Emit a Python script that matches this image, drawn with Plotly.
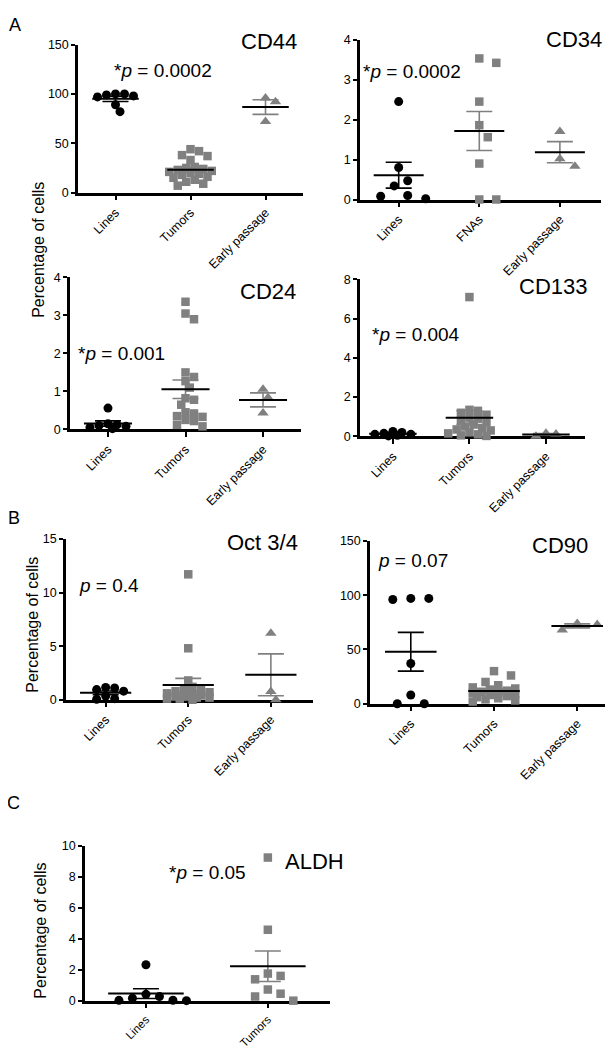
import numpy as np
import plotly.graph_objects as go

# ---------------- data ----------------
cats3 = ["Lines", "Tumors", "Early passage"]
cats_cd34 = ["Lines", "FNAs", "Early passage"]
cats2 = ["Lines", "Tumors"]

cd44_lines = [100, 98, 97, 99, 100, 82, 89]
cd44_tumors = [44, 42, 38, 37, 33, 26, 25, 24, 23, 22, 21, 20, 19, 18, 16, 15, 13, 11, 9, 7]
cd44_early = [96, 92, 72]

cd34_lines = [2.45, 0.8, 0.47, 0.34, 0.1, 0.02, 0.08]
cd34_fnas = [3.42, 3.53, 2.45, 1.86, 1.56, 0.9, 0.0, 0.0]
cd34_early = [1.70, 1.02, 0.83]

cd24_lines = [0.56, 0.15, 0.12, 0.1, 0.08, 0.05, 0.02]
cd24_tumors = [3.36, 3.05, 2.9, 1.5, 1.38, 1.27, 1.1, 0.82, 0.78, 0.65, 0.45, 0.42,
               0.35, 0.33, 0.25, 0.22, 0.12, 0.08]
cd24_early = [1.06, 0.84, 0.43]

cd133_lines = [0.2, 0.15, 0.1, 0.05, 0.02, 0.1, 0.25]
cd133_tumors = [7.1, 1.35, 1.3, 1.2, 1.1, 0.95, 0.9, 0.8, 0.7, 0.6, 0.5, 0.4, 0.35,
                0.3, 0.2, 0.15, 0.1, 0.05, 0.02]
cd133_early = [0.15, 0.0, 0.12]

oct_lines = [1.1, 1.15, 0.95, 0.8, 0.35, 0.1, 0.05]
oct_tumors = [11.7, 4.8, 1.8, 1.2, 1.0, 0.9, 0.8, 0.7, 0.6, 0.5, 0.5, 0.4, 0.3, 0.3,
              0.2, 0.2, 0.1, 0.1, 0.0]
oct_early = [6.2, 0.77, 0.0]

cd90_lines = [97, 96, 97, 37, 8, 0, 0]
cd90_tumors = [30, 26, 20, 17, 15, 14, 13, 12, 11, 10, 10, 9, 8, 7, 6, 5, 4, 3, 2]
cd90_early = [74, 68, 73]

aldh_lines = [2.32, 0.41, 0.27, 0.0, 0.02, 0.03, 0.16]
aldh_tumors = [9.24, 4.58, 1.6, 1.75, 1.38, 0.72, 0.45, 0.27, 0.0]

titles = ["CD44", "CD34", "CD24", "CD133", "Oct 3/4", "CD90", "ALDH"]
ptexts = ["*<i>p</i> = 0.0002", "*<i>p</i> = 0.0002", "*<i>p</i> = 0.001",
          "*<i>p</i> = 0.004", "<i>p</i> = 0.4", "<i>p</i> = 0.07", "*<i>p</i> = 0.05"]

# ---------------- layout geometry (pixels) ----------------
W, H = 613, 1050
BLACK = "#000000"
GRAY = "#808080"
FONT = "Liberation Sans, Arial, Helvetica, sans-serif"

panels = [
    dict(cats=cats3, groups=[cd44_lines, cd44_tumors, cd44_early], x0=70, x1=295, yt=30, yb=180,
         ymax=150, dtick=50, xr=(-0.5, 2.5), title=(261, 27), ptxt=(155, 56), cf=12.5,
         gap=0.9, cap=2.8),
    dict(cats=cats_cd34, groups=[cd34_lines, cd34_fnas, cd34_early], x0=352, x1=593, yt=25, yb=187,
         ymax=4, dtick=1, xr=(-0.48, 2.51), title=(566, 25), ptxt=(404, 57), cf=12.5,
         gap=1.6, cap=3.0),
    dict(cats=cats3, groups=[cd24_lines, cd24_tumors, cd24_early], x0=62, x1=293, yt=266, yb=420,
         ymax=4, dtick=1, xr=(-0.49, 2.49), title=(260, 280), ptxt=(113, 343), cf=12.5,
         gap=0.9, cap=2.8),
    dict(cats=cats3, groups=[cd133_lines, cd133_tumors, cd133_early], x0=352, x1=577, yt=268, yb=427,
         ymax=8, dtick=2, xr=(-0.43, 2.51), title=(545, 275), ptxt=(408, 324), cf=12.5,
         gap=0.85, cap=2.8),
    dict(cats=cats3, groups=[oct_lines, oct_tumors, oct_early], x0=58, x1=305, yt=531, yb=694,
         ymax=15, dtick=5, xr=(-0.48, 2.51), title=(254, 535), ptxt=(101, 578), cf=12.5,
         gap=0.85, cap=2.8),
    dict(cats=cats3, groups=[cd90_lines, cd90_tumors, cd90_early], x0=362, x1=610, yt=533, yb=698,
         ymax=150, dtick=50, xr=(-0.49, 2.49), title=(552, 538), ptxt=(405, 553), cf=12.5,
         gap=1.6, cap=2.8),
    dict(cats=cats2, groups=[aldh_lines, aldh_tumors], x0=77, x1=322, yt=842, yb=999,
         ymax=10, dtick=2, xr=(-0.5, 1.51), title=(307, 858), ptxt=(199, 869), cf=11.5,
         gap=1.5, cap=4.5),
]

symbols = ["circle", "square", "triangle-up"]
sizes = [9, 8.5, 10]
colors = [BLACK, GRAY, GRAY]


def swarm(vals, ypu, xpu, d, gap, cap):
    """Beeswarm offsets (x data units) derived from the values, limited in width."""
    n = len(vals)
    order = sorted(range(n), key=lambda i: -vals[i])
    placed = []
    offs = [0.0] * n
    cands = [0.0]
    k = 1
    while k * 0.5 * d <= cap * d + 1e-9:
        cands += [k * 0.5 * d, -k * 0.5 * d]
        k += 1
    lim = (gap * d) ** 2
    for i in order:
        y = vals[i] * ypu
        best, bestd = None, -1.0
        for c in cands:
            md = min([(c - px) ** 2 + (y - py) ** 2 for px, py in placed] or [1e9])
            if md >= lim:
                best = c
                break
            if md > bestd + 1e-6:
                best, bestd = c, md
        placed.append((best, y))
        offs[i] = best / xpu
    return offs


fig = go.Figure()
layout = dict(width=W, height=H, margin=dict(l=0, r=0, t=0, b=0),
              paper_bgcolor="white", plot_bgcolor="white", showlegend=False,
              font=dict(family=FONT, color=BLACK))
annotations = []

for pi, p in enumerate(panels):
    k = "" if pi == 0 else str(pi + 1)
    xa, ya = "x" + k, "y" + k
    ypu = (p["yb"] - p["yt"]) / p["ymax"]
    xpu = (p["x1"] - p["x0"]) / (p["xr"][1] - p["xr"][0])
    for gi, vals in enumerate(p["groups"]):
        offs = swarm(vals, ypu, xpu, sizes[gi], p["gap"], p["cap"])
        xs = [gi + o for o in offs]
        fig.add_trace(go.Scatter(
            x=xs, y=vals, mode="markers", xaxis=xa, yaxis=ya, cliponaxis=False,
            marker=dict(symbol=symbols[gi], size=sizes[gi], color=colors[gi], line=dict(width=0)),
            hoverinfo="y"))
    for gi, vals in enumerate(p["groups"]):
        v = np.array(vals, dtype=float)
        m = float(v.mean())
        sem = float(v.std(ddof=1) / np.sqrt(len(v)))
        fig.add_trace(go.Scatter(
            x=[gi], y=[m], mode="markers", xaxis=xa, yaxis=ya, cliponaxis=False,
            marker=dict(size=1, color="rgba(0,0,0,0)"),
            error_y=dict(type="data", array=[sem], visible=True, color=colors[gi],
                         thickness=1.6, width=13), hoverinfo="skip"))
        fig.add_trace(go.Scatter(
            x=[gi - 0.31, gi + 0.31], y=[m, m], mode="lines", xaxis=xa, yaxis=ya,
            cliponaxis=False, line=dict(color=BLACK, width=2), hoverinfo="skip"))

    layout["xaxis" + k] = dict(
        domain=[p["x0"] / W, p["x1"] / W], range=list(p["xr"]), anchor=ya,
        tickmode="array", tickvals=list(range(len(p["cats"]))), ticktext=p["cats"],
        tickangle=-45, ticks="outside", ticklen=5, tickwidth=2, tickcolor=BLACK,
        showline=True, linecolor=BLACK, linewidth=2.5, showgrid=False, zeroline=False,
        tickfont=dict(size=p["cf"], color=BLACK, family=FONT), layer="below traces",
        fixedrange=True)
    layout["yaxis" + k] = dict(
        domain=[1 - p["yb"] / H, 1 - p["yt"] / H], range=[0, p["ymax"]], anchor=xa,
        tick0=0, dtick=p["dtick"], ticks="outside", ticklen=4, tickwidth=1.5, tickcolor=BLACK,
        showline=True, linecolor=BLACK, linewidth=2.5, showgrid=False, zeroline=False,
        tickfont=dict(size=12.5, color=BLACK, family=FONT), layer="below traces", fixedrange=True)

    annotations.append(dict(text=titles[pi], x=p["title"][0] / W, y=1 - p["title"][1] / H,
                            xref="paper", yref="paper", showarrow=False, xanchor="center",
                            yanchor="middle", font=dict(size=22, color=BLACK, family=FONT)))
    annotations.append(dict(text=ptexts[pi], x=p["ptxt"][0] / W, y=1 - p["ptxt"][1] / H,
                            xref="paper", yref="paper", showarrow=False, xanchor="center",
                            yanchor="middle", font=dict(size=19, color=BLACK, family=FONT)))

for letter, (lx, ly) in zip(["A", "B", "C"], [(7, 10), (6, 510), (6, 799)]):
    annotations.append(dict(text=letter, x=lx / W, y=1 - ly / H, xref="paper", yref="paper",
                            showarrow=False, xanchor="center", yanchor="middle",
                            font=dict(size=18, color=BLACK, family=FONT)))

for (tx, ty) in [(31, 238), (25, 618), (33, 928)]:
    annotations.append(dict(text="Percentage of cells", x=tx / W, y=1 - ty / H, xref="paper",
                            yref="paper", showarrow=False, textangle=-90, xanchor="center",
                            yanchor="middle", font=dict(size=16, color=BLACK, family=FONT)))

layout["annotations"] = annotations
fig.update_layout(**layout)
fig.write_html("out.html")
